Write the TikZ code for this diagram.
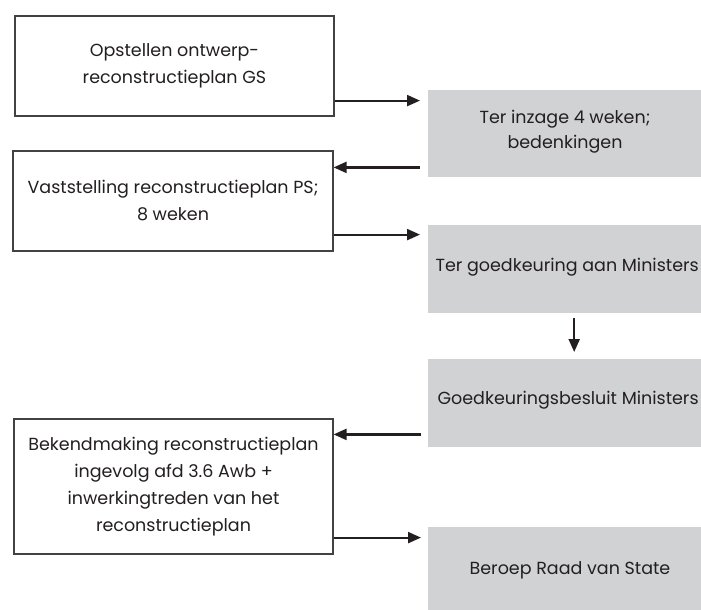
\documentclass[tikz,border=0pt]{standalone}
\usepackage{fontspec}
\setmainfont{Poppins}
\usetikzlibrary{arrows.meta}
\definecolor{vakgrijs}{HTML}{D1D2D4}
\definecolor{tekst}{HTML}{231F20}
\begin{document}
\begin{tikzpicture}[x=1pt,y=-1pt,
        witvak/.style={draw=tekst!85,line width=1.2pt,fill=white,align=center,
            font=\fontsize{17.5}{27}\selectfont,text=tekst},
        grijsvak/.style={fill=vakgrijs,inner sep=0pt,anchor=north west},
        vaktekst/.style={align=center,font=\fontsize{17.5}{25}\selectfont,text=tekst},
        pijl/.style={-{Triangle[length=13pt,width=11pt]},line width=2.2pt,tekst}]
    \useasboundingbox[fill=white] (0,0) rectangle (701,610);
    \node[witvak,minimum width=319pt,minimum height=100pt] (opstel) at (174.5,66)
        {Opstellen ontwerp-\\reconstructieplan GS};
    \node[witvak,minimum width=320pt,minimum height=100pt] (vastst) at (173,201)
        {Vaststelling reconstructieplan PS;\\8 weken};
    \node[witvak,minimum width=319pt,minimum height=135pt] (bekend) at (173.5,486.5)
        {Bekendmaking reconstructieplan\\ingevolg afd 3.6 Awb +\\inwerkingtreden van het\\reconstructieplan};
    \node[grijsvak,minimum width=280pt,minimum height=87pt] (inzage) at (428,90) {};
    \node[grijsvak,minimum width=280pt,minimum height=88pt] (goedk) at (428,225) {};
    \node[grijsvak,minimum width=280pt,minimum height=88pt] (besluit) at (428,359) {};
    \node[grijsvak,minimum width=280pt,minimum height=86pt] (beroep) at (428,527) {};
    \node[vaktekst] (inzaget) at (565,131.5) {Ter inzage 4 weken;\\bedenkingen};
    \node[vaktekst,anchor=west] (goedkt) at (432,267) {Ter goedkeuring aan Ministers};
    \node[vaktekst,anchor=west] (besluitt) at (434,400) {Goedkeuringsbesluit Ministers};
    \node[vaktekst] (beroept) at (570,570) {Beroep Raad van State};
    \draw[pijl,shorten >=8pt] ([yshift=16pt]opstel.south east) coordinate (p1) -- (p1 -| inzage.west);
    \draw[pijl,shorten <=8pt] ([yshift=10pt]inzage.south west) coordinate (p2) -- (p2 -| vastst.east);
    \draw[pijl,shorten >=8pt] ([yshift=17pt]vastst.south east) coordinate (p3) -- (p3 -| goedk.west);
    \draw[pijl,shorten <=5pt,shorten >=7pt] ([xshift=6pt]goedk.south) -- ([xshift=6pt]besluit.north);
    \draw[pijl,shorten <=7pt] ([yshift=13pt]besluit.south west) coordinate (p4) -- (p4 -| bekend.east);
    \draw[pijl,shorten >=7pt] ([yshift=17pt]bekend.south east) coordinate (p5) -- (p5 -| beroep.west);
\end{tikzpicture}
\end{document}
